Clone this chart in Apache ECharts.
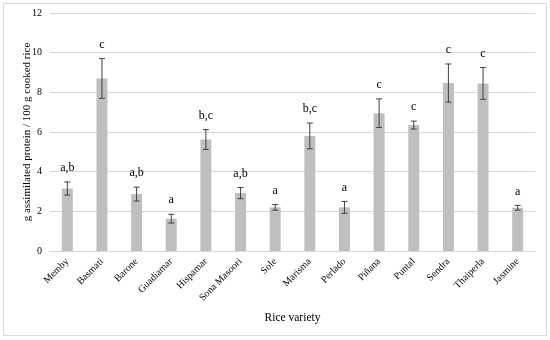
<!DOCTYPE html>
<html><head><meta charset="utf-8">
<script src="https://cdn.jsdelivr.net/npm/echarts@6/dist/echarts.min.js"></script>
<style>html,body{margin:0;padding:0;background:#fff}#c{width:550px;height:340px}</style>
</head><body><div id="c"></div>
<script>
var categories = ['Memby','Basmati','Barone','Guadiamar','Hispamar','Sona Masoori','Sole','Marisma','Perlado','Piñana','Puntal','Sendra','Thaiperla','Jasmine'];
var means = [3.15, 8.7, 2.87, 1.63, 5.62, 2.92, 2.2, 5.8, 2.2, 6.95, 6.35, 8.47, 8.45, 2.18];
var errors = [0.33, 1.0, 0.35, 0.22, 0.5, 0.28, 0.14, 0.65, 0.3, 0.72, 0.2, 0.96, 0.8, 0.12];
var letters = ['a,b','c','a,b','a','b,c','a,b','a','b,c','a','c','c','c','c','a'];
var yTicks = [0, 2, 4, 6, 8, 10, 12];

var FONT = 'Liberation Serif';
var chart = echarts.init(document.getElementById('c'), null, {renderer: 'canvas'});
var errData = categories.map(function (c, i) { return [i, means[i] - errors[i], means[i] + errors[i], letters[i]]; });

chart.setOption({
  animation: false,
  textStyle: {fontFamily: FONT},
  graphic: [{type: 'rect', shape: {x: 3.5, y: 3.5, width: 543, height: 332}, style: {fill: 'none', stroke: '#d9d9d9', lineWidth: 1}, silent: true}],
  grid: {left: 50, right: 15, top: 13, bottom: 89},
  xAxis: {
    type: 'category', data: categories,
    name: 'Rice variety', nameLocation: 'middle', nameGap: 61,
    nameTextStyle: {fontFamily: FONT, fontSize: 11.5, color: '#000'},
    axisLine: {show: true, lineStyle: {color: '#d9d9d9'}},
    axisTick: {show: false},
    axisLabel: {rotate: 45, interval: 0, fontFamily: FONT, fontSize: 10, color: '#000', margin: 9}
  },
  yAxis: {
    type: 'value', min: 0, max: 12, interval: 2,
    name: 'g assimilated protein / 100 g cooked rice', nameLocation: 'middle', nameGap: 17,
    nameMoveOverlap: false,
    nameTextStyle: {fontFamily: FONT, fontSize: 11, color: '#000'},
    axisLine: {show: false}, axisTick: {show: false},
    splitLine: {lineStyle: {color: '#d9d9d9'}},
    axisLabel: {fontFamily: FONT, fontSize: 10, color: '#000', margin: 8,
      formatter: function (v) { return yTicks.indexOf(v) >= 0 ? String(v) : ''; }}
  },
  series: [
    {type: 'bar', data: means, barWidth: 11, itemStyle: {color: '#bfbfbf'}},
    {type: 'custom', data: errData, z: 10,
      renderItem: function (params, api) {
        var x = api.value(0);
        var lo = api.coord([x, api.value(1)]);
        var hi = api.coord([x, api.value(2)]);
        var hw = 3;
        var st = {stroke: '#404040', lineWidth: 1};
        return {type: 'group', children: [
          {type: 'line', shape: {x1: lo[0], y1: lo[1], x2: hi[0], y2: hi[1]}, style: st},
          {type: 'line', shape: {x1: lo[0] - hw, y1: lo[1], x2: lo[0] + hw, y2: lo[1]}, style: st},
          {type: 'line', shape: {x1: hi[0] - hw, y1: hi[1], x2: hi[0] + hw, y2: hi[1]}, style: st},
          {type: 'text', x: hi[0], y: hi[1] - 8, style: {text: letters[params.dataIndex], fontFamily: FONT, fontSize: 12, fill: '#000', align: 'center', verticalAlign: 'bottom'}}
        ]};
      }
    }
  ]
});
</script></body></html>
